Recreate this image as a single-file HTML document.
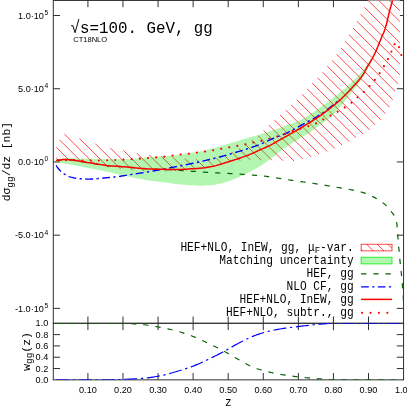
<!DOCTYPE html>
<html><head><meta charset="utf-8"><title>plot</title>
<style>html,body{margin:0;padding:0;background:#fff;overflow:hidden}svg{font-family:"Liberation Sans",sans-serif;opacity:0.999;will-change:transform}</style>
</head><body>
<svg width="407" height="407" viewBox="0 0 407 407" style="display:block">
<defs>
<clipPath id="cm"><rect x="53.3" y="0.45" width="350.25" height="322.85"/></clipPath>
<clipPath id="cl"><rect x="53.3" y="323.3" width="350.25" height="56.55000000000001"/></clipPath>
<clipPath id="ch"><path d="M56.20,144.50 L59.80,139.80 L64.70,133.70 L66.26,133.60 L67.75,133.68 L69.21,134.16 L70.63,134.87 L72.06,135.52 L73.50,136.10 L74.93,136.68 L76.36,137.27 L77.79,137.84 L79.23,138.39 L80.68,138.92 L82.13,139.44 L83.59,139.96 L85.05,140.47 L86.51,140.97 L87.97,141.46 L89.44,141.95 L90.90,142.43 L92.37,142.90 L93.85,143.37 L95.32,143.83 L96.79,144.28 L98.27,144.74 L99.75,145.19 L101.23,145.65 L102.71,146.09 L104.19,146.52 L105.68,146.94 L107.17,147.33 L108.67,147.70 L110.17,148.04 L111.68,148.35 L113.19,148.63 L114.71,148.90 L116.24,149.15 L117.76,149.40 L119.29,149.65 L120.81,149.91 L122.33,150.18 L123.85,150.46 L125.36,150.77 L126.88,151.08 L128.39,151.40 L129.90,151.72 L131.41,152.04 L132.92,152.36 L134.43,152.66 L135.95,152.95 L137.47,153.23 L138.99,153.49 L140.51,153.76 L142.03,154.01 L143.56,154.26 L145.08,154.49 L146.61,154.72 L148.14,154.93 L149.67,155.12 L151.20,155.30 L152.74,155.47 L154.27,155.63 L155.81,155.78 L157.35,155.93 L158.88,156.07 L160.42,156.21 L161.96,156.35 L163.50,156.49 L165.04,156.61 L166.58,156.73 L168.11,156.85 L169.65,156.97 L171.19,157.09 L172.73,157.22 L174.27,157.36 L175.80,157.53 L177.34,157.71 L178.87,157.89 L180.40,158.08 L181.94,158.26 L183.47,158.42 L185.01,158.57 L186.55,158.70 L188.08,158.83 L189.62,158.96 L191.17,159.08 L192.71,159.18 L194.25,159.26 L195.79,159.30 L197.33,159.30 L198.88,159.29 L200.43,159.28 L201.97,159.27 L203.52,159.25 L205.06,159.23 L206.60,159.21 L208.13,159.15 L209.67,159.02 L211.21,158.82 L212.74,158.57 L214.27,158.28 L215.79,157.96 L217.29,157.64 L218.78,157.30 L220.27,156.90 L221.74,156.44 L223.21,155.94 L224.67,155.40 L226.12,154.83 L227.55,154.24 L228.97,153.64 L230.37,153.03 L231.76,152.37 L233.13,151.67 L234.50,150.94 L235.85,150.18 L237.19,149.41 L238.53,148.61 L239.86,147.81 L241.18,147.00 L242.49,146.20 L243.79,145.37 L245.07,144.51 L246.35,143.64 L247.62,142.76 L248.89,141.88 L250.16,141.00 L251.44,140.14 L252.74,139.30 L254.04,138.46 L255.33,137.61 L256.58,136.72 L257.79,135.77 L258.98,134.79 L260.14,133.77 L261.28,132.72 L262.41,131.66 L263.52,130.58 L264.60,129.48 L265.64,128.34 L266.68,127.20 L267.74,126.07 L268.82,124.98 L269.96,123.93 L271.12,122.92 L272.30,121.92 L273.48,120.93 L274.66,119.92 L275.82,118.91 L276.98,117.89 L278.14,116.87 L279.30,115.85 L280.46,114.83 L281.61,113.80 L282.76,112.77 L283.90,111.73 L285.04,110.69 L286.17,109.64 L287.29,108.57 L288.40,107.50 L289.50,106.42 L290.60,105.34 L291.71,104.27 L292.84,103.21 L293.98,102.17 L295.12,101.12 L296.24,100.06 L297.34,98.98 L298.43,97.90 L299.52,96.81 L300.61,95.71 L301.69,94.61 L302.77,93.50 L303.84,92.39 L304.91,91.27 L305.97,90.15 L307.03,89.03 L308.09,87.90 L309.14,86.77 L310.19,85.64 L311.24,84.50 L312.28,83.36 L313.32,82.22 L314.36,81.08 L315.39,79.93 L316.43,78.78 L317.46,77.64 L318.49,76.49 L319.52,75.34 L320.55,74.19 L321.59,73.04 L322.61,71.88 L323.64,70.72 L324.66,69.56 L325.67,68.39 L326.67,67.22 L327.67,66.03 L328.65,64.85 L329.62,63.65 L330.58,62.44 L331.53,61.23 L332.45,60.00 L333.36,58.76 L334.26,57.50 L335.14,56.23 L336.01,54.96 L336.87,53.68 L337.73,52.39 L338.59,51.10 L339.45,49.82 L340.31,48.53 L341.17,47.25 L342.04,45.98 L342.91,44.70 L343.77,43.42 L344.61,42.12 L345.42,40.81 L346.21,39.48 L346.97,38.14 L347.73,36.80 L348.50,35.46 L349.28,34.13 L350.08,32.80 L350.88,31.49 L351.69,30.17 L352.49,28.85 L353.28,27.53 L354.08,26.20 L354.88,24.88 L355.67,23.55 L356.44,22.22 L357.18,20.86 L357.88,19.49 L358.56,18.10 L359.23,16.71 L359.91,15.32 L360.62,13.96 L361.37,12.61 L362.14,11.27 L362.93,9.94 L363.71,8.61 L364.48,7.27 L365.23,5.92 L365.97,4.56 L366.71,3.21 L367.44,1.85 L368.17,0.49 L368.88,-0.88 L369.60,-2.25 L370.30,-3.62 L371.00,-5.00 L399.90,-5.00 L399.90,78.00 L399.43,79.47 L398.96,80.93 L398.46,82.39 L397.95,83.84 L397.40,85.28 L396.83,86.71 L396.24,88.14 L395.67,89.57 L395.13,91.01 L394.66,92.47 L394.24,93.95 L393.86,95.45 L393.48,96.95 L393.08,98.43 L392.63,99.90 L392.12,101.34 L391.54,102.77 L390.92,104.19 L390.26,105.58 L389.57,106.96 L388.86,108.32 L388.11,109.66 L387.32,110.99 L386.49,112.30 L385.65,113.58 L384.78,114.85 L383.88,116.11 L382.95,117.35 L381.99,118.55 L380.98,119.70 L379.92,120.80 L378.78,121.83 L377.61,122.83 L376.42,123.83 L375.25,124.84 L374.12,125.89 L372.99,126.95 L371.86,128.00 L370.70,129.01 L369.50,129.95 L368.24,130.81 L366.93,131.64 L365.60,132.42 L364.26,133.19 L362.91,133.93 L361.54,134.63 L360.15,135.31 L358.76,135.98 L357.38,136.66 L356.02,137.38 L354.69,138.15 L353.39,138.96 L352.09,139.80 L350.80,140.63 L349.48,141.43 L348.13,142.17 L346.77,142.88 L345.39,143.57 L344.01,144.25 L342.61,144.91 L341.22,145.57 L339.83,146.21 L338.42,146.85 L337.02,147.48 L335.61,148.10 L334.19,148.70 L332.78,149.31 L331.36,149.91 L329.93,150.49 L328.50,151.05 L327.06,151.59 L325.60,152.08 L324.14,152.55 L322.66,153.01 L321.19,153.46 L319.72,153.93 L318.26,154.42 L316.81,154.93 L315.36,155.45 L313.90,155.96 L312.44,156.45 L310.97,156.89 L309.49,157.29 L308.00,157.65 L306.50,157.99 L304.99,158.32 L303.48,158.66 L301.98,159.00 L300.49,159.43 L299.00,159.92 L297.52,160.39 L296.03,160.78 L294.52,160.98 L293.00,161.00 L291.47,160.97 L289.93,160.94 L288.39,160.90 L286.84,160.85 L285.30,160.81 L283.76,160.76 L282.22,160.71 L280.68,160.66 L279.14,160.60 L277.60,160.53 L276.07,160.47 L274.53,160.42 L272.99,160.37 L271.45,160.33 L269.91,160.30 L268.37,160.27 L266.83,160.25 L265.29,160.23 L263.75,160.21 L262.21,160.19 L260.67,160.17 L259.13,160.15 L257.59,160.14 L256.05,160.12 L254.52,160.11 L252.98,160.11 L251.44,160.10 L249.90,160.10 L248.36,160.12 L246.82,160.17 L245.28,160.25 L243.74,160.34 L242.21,160.44 L240.67,160.55 L239.14,160.67 L237.61,160.81 L236.08,160.98 L234.55,161.17 L233.02,161.38 L231.49,161.61 L229.97,161.85 L228.46,162.09 L226.94,162.36 L225.43,162.67 L223.93,162.99 L222.42,163.33 L220.92,163.68 L219.42,164.02 L217.92,164.38 L216.43,164.76 L214.94,165.15 L213.44,165.53 L211.95,165.89 L210.45,166.21 L208.94,166.49 L207.42,166.73 L205.89,166.96 L204.37,167.18 L202.84,167.41 L201.33,167.67 L199.81,167.95 L198.30,168.23 L196.79,168.52 L195.27,168.81 L193.76,169.08 L192.24,169.37 L190.73,169.67 L189.21,169.95 L187.70,170.20 L186.17,170.38 L184.64,170.52 L183.11,170.64 L181.57,170.74 L180.03,170.83 L178.49,170.91 L176.96,170.98 L175.42,171.05 L173.88,171.11 L172.34,171.18 L170.80,171.24 L169.26,171.30 L167.72,171.36 L166.19,171.40 L164.65,171.44 L163.11,171.47 L161.57,171.49 L160.03,171.50 L158.49,171.50 L156.95,171.49 L155.41,171.48 L153.87,171.46 L152.33,171.44 L150.79,171.41 L149.25,171.38 L147.71,171.35 L146.17,171.32 L144.64,171.27 L143.10,171.20 L141.56,171.11 L140.03,170.99 L138.49,170.85 L136.96,170.71 L135.43,170.56 L133.89,170.40 L132.36,170.26 L130.83,170.10 L129.30,169.94 L127.77,169.76 L126.24,169.57 L124.71,169.38 L123.19,169.19 L121.66,169.00 L120.13,168.82 L118.60,168.63 L117.07,168.46 L115.54,168.29 L114.00,168.11 L112.47,167.93 L110.95,167.74 L109.43,167.52 L107.91,167.29 L106.40,167.00 L104.90,166.66 L103.40,166.29 L101.91,165.91 L100.41,165.54 L98.91,165.19 L97.40,164.88 L95.89,164.60 L94.38,164.34 L92.86,164.08 L91.34,163.84 L89.82,163.60 L88.30,163.36 L86.77,163.12 L85.25,162.88 L83.73,162.63 L82.22,162.37 L80.70,162.07 L79.19,161.74 L77.68,161.43 L76.16,161.17 L74.64,161.00 L73.11,160.90 L71.58,160.81 L70.04,160.73 L68.49,160.67 L66.95,160.63 L65.41,160.60 L63.87,160.61 L62.33,160.66 L60.80,160.75 L59.26,160.85 L57.73,161.01 L56.20,161.20Z"/></clipPath><clipPath id="ct"><rect x="0" y="0.3" width="407" height="330"/></clipPath>
<clipPath id="clh"><rect x="361.1" y="244.2" width="30.9" height="6.7"/></clipPath>
</defs>
<rect width="407" height="407" fill="#fff"/>
<g stroke="#303030" stroke-width="1" fill="none">
<rect x="53.3" y="0.45" width="350.25" height="322.85"/>
<rect x="53.3" y="323.3" width="350.25" height="56.55000000000001"/>
<path d="M87.91,0.45 v6.8 M87.91,316.5 v13.6 M87.91,379.85 v-6.8 M122.98,0.45 v6.8 M122.98,316.5 v13.6 M122.98,379.85 v-6.8 M158.06,0.45 v6.8 M158.06,316.5 v13.6 M158.06,379.85 v-6.8 M193.13,0.45 v6.8 M193.13,316.5 v13.6 M193.13,379.85 v-6.8 M228.20,0.45 v6.8 M228.20,316.5 v13.6 M228.20,379.85 v-6.8 M263.28,0.45 v6.8 M263.28,316.5 v13.6 M263.28,379.85 v-6.8 M298.36,0.45 v6.8 M298.36,316.5 v13.6 M298.36,379.85 v-6.8 M333.43,0.45 v6.8 M333.43,316.5 v13.6 M333.43,379.85 v-6.8 M368.50,0.45 v6.8 M368.50,316.5 v13.6 M368.50,379.85 v-6.8 M53.3,15.50 h6.8 M403.55,15.50 h-6.8 M53.3,88.72 h6.8 M403.55,88.72 h-6.8 M53.3,161.95 h6.8 M403.55,161.95 h-6.8 M53.3,235.17 h6.8 M403.55,235.17 h-6.8 M53.3,308.40 h6.8 M403.55,308.40 h-6.8 M53.3,368.54 h6.8 M403.55,368.54 h-6.8 M53.3,357.23 h6.8 M403.55,357.23 h-6.8 M53.3,345.92 h6.8 M403.55,345.92 h-6.8 M53.3,334.61 h6.8 M403.55,334.61 h-6.8"/>
</g>
<g clip-path="url(#cm)">
<path d="M56.20,144.50 L59.80,139.80 L64.70,133.70 L66.26,133.60 L67.75,133.68 L69.21,134.16 L70.63,134.87 L72.06,135.52 L73.50,136.10 L74.93,136.68 L76.36,137.27 L77.79,137.84 L79.23,138.39 L80.68,138.92 L82.13,139.44 L83.59,139.96 L85.05,140.47 L86.51,140.97 L87.97,141.46 L89.44,141.95 L90.90,142.43 L92.37,142.90 L93.85,143.37 L95.32,143.83 L96.79,144.28 L98.27,144.74 L99.75,145.19 L101.23,145.65 L102.71,146.09 L104.19,146.52 L105.68,146.94 L107.17,147.33 L108.67,147.70 L110.17,148.04 L111.68,148.35 L113.19,148.63 L114.71,148.90 L116.24,149.15 L117.76,149.40 L119.29,149.65 L120.81,149.91 L122.33,150.18 L123.85,150.46 L125.36,150.77 L126.88,151.08 L128.39,151.40 L129.90,151.72 L131.41,152.04 L132.92,152.36 L134.43,152.66 L135.95,152.95 L137.47,153.23 L138.99,153.49 L140.51,153.76 L142.03,154.01 L143.56,154.26 L145.08,154.49 L146.61,154.72 L148.14,154.93 L149.67,155.12 L151.20,155.30 L152.74,155.47 L154.27,155.63 L155.81,155.78 L157.35,155.93 L158.88,156.07 L160.42,156.21 L161.96,156.35 L163.50,156.49 L165.04,156.61 L166.58,156.73 L168.11,156.85 L169.65,156.97 L171.19,157.09 L172.73,157.22 L174.27,157.36 L175.80,157.53 L177.34,157.71 L178.87,157.89 L180.40,158.08 L181.94,158.26 L183.47,158.42 L185.01,158.57 L186.55,158.70 L188.08,158.83 L189.62,158.96 L191.17,159.08 L192.71,159.18 L194.25,159.26 L195.79,159.30 L197.33,159.30 L198.88,159.29 L200.43,159.28 L201.97,159.27 L203.52,159.25 L205.06,159.23 L206.60,159.21 L208.13,159.15 L209.67,159.02 L211.21,158.82 L212.74,158.57 L214.27,158.28 L215.79,157.96 L217.29,157.64 L218.78,157.30 L220.27,156.90 L221.74,156.44 L223.21,155.94 L224.67,155.40 L226.12,154.83 L227.55,154.24 L228.97,153.64 L230.37,153.03 L231.76,152.37 L233.13,151.67 L234.50,150.94 L235.85,150.18 L237.19,149.41 L238.53,148.61 L239.86,147.81 L241.18,147.00 L242.49,146.20 L243.79,145.37 L245.07,144.51 L246.35,143.64 L247.62,142.76 L248.89,141.88 L250.16,141.00 L251.44,140.14 L252.74,139.30 L254.04,138.46 L255.33,137.61 L256.58,136.72 L257.79,135.77 L258.98,134.79 L260.14,133.77 L261.28,132.72 L262.41,131.66 L263.52,130.58 L264.60,129.48 L265.64,128.34 L266.68,127.20 L267.74,126.07 L268.82,124.98 L269.96,123.93 L271.12,122.92 L272.30,121.92 L273.48,120.93 L274.66,119.92 L275.82,118.91 L276.98,117.89 L278.14,116.87 L279.30,115.85 L280.46,114.83 L281.61,113.80 L282.76,112.77 L283.90,111.73 L285.04,110.69 L286.17,109.64 L287.29,108.57 L288.40,107.50 L289.50,106.42 L290.60,105.34 L291.71,104.27 L292.84,103.21 L293.98,102.17 L295.12,101.12 L296.24,100.06 L297.34,98.98 L298.43,97.90 L299.52,96.81 L300.61,95.71 L301.69,94.61 L302.77,93.50 L303.84,92.39 L304.91,91.27 L305.97,90.15 L307.03,89.03 L308.09,87.90 L309.14,86.77 L310.19,85.64 L311.24,84.50 L312.28,83.36 L313.32,82.22 L314.36,81.08 L315.39,79.93 L316.43,78.78 L317.46,77.64 L318.49,76.49 L319.52,75.34 L320.55,74.19 L321.59,73.04 L322.61,71.88 L323.64,70.72 L324.66,69.56 L325.67,68.39 L326.67,67.22 L327.67,66.03 L328.65,64.85 L329.62,63.65 L330.58,62.44 L331.53,61.23 L332.45,60.00 L333.36,58.76 L334.26,57.50 L335.14,56.23 L336.01,54.96 L336.87,53.68 L337.73,52.39 L338.59,51.10 L339.45,49.82 L340.31,48.53 L341.17,47.25 L342.04,45.98 L342.91,44.70 L343.77,43.42 L344.61,42.12 L345.42,40.81 L346.21,39.48 L346.97,38.14 L347.73,36.80 L348.50,35.46 L349.28,34.13 L350.08,32.80 L350.88,31.49 L351.69,30.17 L352.49,28.85 L353.28,27.53 L354.08,26.20 L354.88,24.88 L355.67,23.55 L356.44,22.22 L357.18,20.86 L357.88,19.49 L358.56,18.10 L359.23,16.71 L359.91,15.32 L360.62,13.96 L361.37,12.61 L362.14,11.27 L362.93,9.94 L363.71,8.61 L364.48,7.27 L365.23,5.92 L365.97,4.56 L366.71,3.21 L367.44,1.85 L368.17,0.49 L368.88,-0.88 L369.60,-2.25 L370.30,-3.62 L371.00,-5.00 L399.90,-5.00 L399.90,78.00 L399.43,79.47 L398.96,80.93 L398.46,82.39 L397.95,83.84 L397.40,85.28 L396.83,86.71 L396.24,88.14 L395.67,89.57 L395.13,91.01 L394.66,92.47 L394.24,93.95 L393.86,95.45 L393.48,96.95 L393.08,98.43 L392.63,99.90 L392.12,101.34 L391.54,102.77 L390.92,104.19 L390.26,105.58 L389.57,106.96 L388.86,108.32 L388.11,109.66 L387.32,110.99 L386.49,112.30 L385.65,113.58 L384.78,114.85 L383.88,116.11 L382.95,117.35 L381.99,118.55 L380.98,119.70 L379.92,120.80 L378.78,121.83 L377.61,122.83 L376.42,123.83 L375.25,124.84 L374.12,125.89 L372.99,126.95 L371.86,128.00 L370.70,129.01 L369.50,129.95 L368.24,130.81 L366.93,131.64 L365.60,132.42 L364.26,133.19 L362.91,133.93 L361.54,134.63 L360.15,135.31 L358.76,135.98 L357.38,136.66 L356.02,137.38 L354.69,138.15 L353.39,138.96 L352.09,139.80 L350.80,140.63 L349.48,141.43 L348.13,142.17 L346.77,142.88 L345.39,143.57 L344.01,144.25 L342.61,144.91 L341.22,145.57 L339.83,146.21 L338.42,146.85 L337.02,147.48 L335.61,148.10 L334.19,148.70 L332.78,149.31 L331.36,149.91 L329.93,150.49 L328.50,151.05 L327.06,151.59 L325.60,152.08 L324.14,152.55 L322.66,153.01 L321.19,153.46 L319.72,153.93 L318.26,154.42 L316.81,154.93 L315.36,155.45 L313.90,155.96 L312.44,156.45 L310.97,156.89 L309.49,157.29 L308.00,157.65 L306.50,157.99 L304.99,158.32 L303.48,158.66 L301.98,159.00 L300.49,159.43 L299.00,159.92 L297.52,160.39 L296.03,160.78 L294.52,160.98 L293.00,161.00 L291.47,160.97 L289.93,160.94 L288.39,160.90 L286.84,160.85 L285.30,160.81 L283.76,160.76 L282.22,160.71 L280.68,160.66 L279.14,160.60 L277.60,160.53 L276.07,160.47 L274.53,160.42 L272.99,160.37 L271.45,160.33 L269.91,160.30 L268.37,160.27 L266.83,160.25 L265.29,160.23 L263.75,160.21 L262.21,160.19 L260.67,160.17 L259.13,160.15 L257.59,160.14 L256.05,160.12 L254.52,160.11 L252.98,160.11 L251.44,160.10 L249.90,160.10 L248.36,160.12 L246.82,160.17 L245.28,160.25 L243.74,160.34 L242.21,160.44 L240.67,160.55 L239.14,160.67 L237.61,160.81 L236.08,160.98 L234.55,161.17 L233.02,161.38 L231.49,161.61 L229.97,161.85 L228.46,162.09 L226.94,162.36 L225.43,162.67 L223.93,162.99 L222.42,163.33 L220.92,163.68 L219.42,164.02 L217.92,164.38 L216.43,164.76 L214.94,165.15 L213.44,165.53 L211.95,165.89 L210.45,166.21 L208.94,166.49 L207.42,166.73 L205.89,166.96 L204.37,167.18 L202.84,167.41 L201.33,167.67 L199.81,167.95 L198.30,168.23 L196.79,168.52 L195.27,168.81 L193.76,169.08 L192.24,169.37 L190.73,169.67 L189.21,169.95 L187.70,170.20 L186.17,170.38 L184.64,170.52 L183.11,170.64 L181.57,170.74 L180.03,170.83 L178.49,170.91 L176.96,170.98 L175.42,171.05 L173.88,171.11 L172.34,171.18 L170.80,171.24 L169.26,171.30 L167.72,171.36 L166.19,171.40 L164.65,171.44 L163.11,171.47 L161.57,171.49 L160.03,171.50 L158.49,171.50 L156.95,171.49 L155.41,171.48 L153.87,171.46 L152.33,171.44 L150.79,171.41 L149.25,171.38 L147.71,171.35 L146.17,171.32 L144.64,171.27 L143.10,171.20 L141.56,171.11 L140.03,170.99 L138.49,170.85 L136.96,170.71 L135.43,170.56 L133.89,170.40 L132.36,170.26 L130.83,170.10 L129.30,169.94 L127.77,169.76 L126.24,169.57 L124.71,169.38 L123.19,169.19 L121.66,169.00 L120.13,168.82 L118.60,168.63 L117.07,168.46 L115.54,168.29 L114.00,168.11 L112.47,167.93 L110.95,167.74 L109.43,167.52 L107.91,167.29 L106.40,167.00 L104.90,166.66 L103.40,166.29 L101.91,165.91 L100.41,165.54 L98.91,165.19 L97.40,164.88 L95.89,164.60 L94.38,164.34 L92.86,164.08 L91.34,163.84 L89.82,163.60 L88.30,163.36 L86.77,163.12 L85.25,162.88 L83.73,162.63 L82.22,162.37 L80.70,162.07 L79.19,161.74 L77.68,161.43 L76.16,161.17 L74.64,161.00 L73.11,160.90 L71.58,160.81 L70.04,160.73 L68.49,160.67 L66.95,160.63 L65.41,160.60 L63.87,160.61 L62.33,160.66 L60.80,160.75 L59.26,160.85 L57.73,161.01 L56.20,161.20Z" fill="#fff" stroke="none" clip-path="url(#ct)"/>
<g clip-path="url(#ch)"><path d="M-218.34,-10 L211.66,420 M-207.67,-10 L222.33,420 M-197.01,-10 L232.99,420 M-186.34,-10 L243.66,420 M-175.67,-10 L254.33,420 M-165.00,-10 L265.00,420 M-154.34,-10 L275.66,420 M-143.67,-10 L286.33,420 M-133.00,-10 L297.00,420 M-122.34,-10 L307.66,420 M-111.67,-10 L318.33,420 M-101.00,-10 L329.00,420 M-90.34,-10 L339.66,420 M-79.67,-10 L350.33,420 M-69.00,-10 L361.00,420 M-58.33,-10 L371.67,420 M-47.67,-10 L382.33,420 M-37.00,-10 L393.00,420 M-26.33,-10 L403.67,420 M-15.67,-10 L414.33,420 M-5.00,-10 L425.00,420 M5.67,-10 L435.67,420 M16.33,-10 L446.33,420 M27.00,-10 L457.00,420 M37.67,-10 L467.67,420 M48.34,-10 L478.34,420 M59.00,-10 L489.00,420 M69.67,-10 L499.67,420 M80.34,-10 L510.34,420 M91.00,-10 L521.00,420 M101.67,-10 L531.67,420 M112.34,-10 L542.34,420 M123.00,-10 L553.00,420 M133.67,-10 L563.67,420 M144.34,-10 L574.34,420 M155.01,-10 L585.00,420 M165.67,-10 L595.67,420 M176.34,-10 L606.34,420 M187.01,-10 L617.01,420 M197.67,-10 L627.67,420 M208.34,-10 L638.34,420 M219.01,-10 L649.01,420 M229.67,-10 L659.67,420 M240.34,-10 L670.34,420 M251.01,-10 L681.01,420 M261.68,-10 L691.67,420 M272.34,-10 L702.34,420 M283.01,-10 L713.01,420 M293.68,-10 L723.68,420 M304.34,-10 L734.34,420 M315.01,-10 L745.01,420 M325.68,-10 L755.68,420 M336.34,-10 L766.34,420 M347.01,-10 L777.01,420 M357.68,-10 L787.68,420 M368.34,-10 L798.34,420 M379.01,-10 L809.01,420 M389.68,-10 L819.68,420 M400.35,-10 L830.35,420" stroke="#ff0000" stroke-width="0.72" fill="none"/></g>
<path d="M56.20,160.30 L57.88,159.63 L59.59,159.05 L61.31,158.67 L63.05,158.53 L64.82,158.43 L66.60,158.36 L68.39,158.31 L70.17,158.30 L71.95,158.32 L73.72,158.37 L75.50,158.43 L77.28,158.51 L79.06,158.57 L80.83,158.62 L82.61,158.68 L84.39,158.73 L86.16,158.78 L87.94,158.84 L89.72,158.89 L91.49,158.94 L93.27,158.98 L95.05,159.03 L96.82,159.06 L98.60,159.09 L100.38,159.10 L102.16,159.12 L103.93,159.13 L105.71,159.14 L107.49,159.16 L109.27,159.17 L111.04,159.18 L112.82,159.18 L114.60,159.19 L116.38,159.20 L118.16,159.20 L119.93,159.20 L121.71,159.19 L123.49,159.17 L125.27,159.13 L127.04,159.09 L128.82,159.04 L130.60,158.98 L132.37,158.89 L134.14,158.77 L135.91,158.63 L137.68,158.46 L139.45,158.27 L141.22,158.08 L142.99,157.88 L144.76,157.69 L146.53,157.51 L148.30,157.34 L150.07,157.19 L151.84,157.07 L153.62,156.95 L155.39,156.83 L157.16,156.72 L158.94,156.61 L160.71,156.50 L162.49,156.38 L164.26,156.26 L166.03,156.12 L167.80,155.98 L169.58,155.84 L171.35,155.69 L173.12,155.53 L174.89,155.37 L176.66,155.19 L178.43,154.99 L180.19,154.78 L181.94,154.51 L183.69,154.20 L185.44,153.85 L187.18,153.51 L188.93,153.18 L190.69,152.90 L192.45,152.65 L194.22,152.43 L195.98,152.20 L197.74,151.96 L199.50,151.69 L201.23,151.36 L202.96,150.97 L204.69,150.53 L206.40,150.07 L208.12,149.58 L209.83,149.09 L211.55,148.60 L213.26,148.14 L214.98,147.68 L216.70,147.22 L218.41,146.75 L220.12,146.27 L221.84,145.79 L223.54,145.31 L225.25,144.81 L226.95,144.30 L228.65,143.77 L230.35,143.24 L232.04,142.71 L233.74,142.17 L235.44,141.65 L237.14,141.13 L238.84,140.62 L240.54,140.11 L242.25,139.61 L243.95,139.11 L245.66,138.61 L247.37,138.11 L249.07,137.61 L250.78,137.11 L252.49,136.62 L254.20,136.13 L255.90,135.63 L257.61,135.14 L259.31,134.63 L261.02,134.12 L262.71,133.59 L264.41,133.06 L266.10,132.52 L267.79,131.97 L269.48,131.42 L271.17,130.85 L272.86,130.29 L274.54,129.71 L276.22,129.13 L277.89,128.54 L279.57,127.94 L281.24,127.34 L282.91,126.73 L284.58,126.12 L286.25,125.51 L287.93,124.91 L289.61,124.32 L291.30,123.73 L292.99,123.13 L294.66,122.52 L296.32,121.88 L297.96,121.21 L299.57,120.50 L301.15,119.74 L302.70,118.93 L304.24,118.07 L305.77,117.17 L307.28,116.23 L308.78,115.26 L310.26,114.27 L311.74,113.26 L313.22,112.24 L314.68,111.21 L316.15,110.18 L317.61,109.15 L319.08,108.13 L320.54,107.13 L322.00,106.12 L323.46,105.10 L324.91,104.07 L326.35,103.03 L327.79,101.97 L329.21,100.92 L330.63,99.85 L332.05,98.77 L333.46,97.69 L334.86,96.60 L336.25,95.49 L337.64,94.38 L339.02,93.26 L340.40,92.13 L341.76,91.00 L343.13,89.86 L344.49,88.71 L345.84,87.56 L347.19,86.39 L348.53,85.21 L349.84,84.02 L351.14,82.82 L352.42,81.59 L353.70,80.35 L354.96,79.09 L356.21,77.83 L357.45,76.54 L358.68,75.24 L359.88,73.93 L361.05,72.59 L362.19,71.24 L363.31,69.87 L364.40,68.47 L365.48,67.05 L366.52,65.60 L367.54,64.13 L368.50,62.64 L369.42,61.13 L370.31,59.60 L371.17,58.05 L372.00,56.48 L372.80,54.89 L373.57,53.28 L374.30,51.65 L375.00,50.00 L375.00,50.00 L374.53,51.85 L374.02,53.69 L373.46,55.51 L372.86,57.32 L372.23,59.09 L371.56,60.85 L370.85,62.58 L370.07,64.30 L369.24,66.00 L368.36,67.68 L367.43,69.35 L366.48,71.00 L365.50,72.64 L364.50,74.27 L363.50,75.88 L362.50,77.48 L361.47,79.07 L360.41,80.63 L359.33,82.19 L358.22,83.73 L357.10,85.26 L355.96,86.78 L354.81,88.30 L353.66,89.81 L352.51,91.32 L351.37,92.83 L350.22,94.34 L349.06,95.84 L347.89,97.34 L346.72,98.83 L345.53,100.31 L344.34,101.78 L343.13,103.24 L341.92,104.69 L340.69,106.14 L339.46,107.59 L338.22,109.04 L336.98,110.48 L335.72,111.91 L334.43,113.31 L333.12,114.68 L331.78,116.00 L330.40,117.27 L328.96,118.48 L327.47,119.64 L325.94,120.77 L324.39,121.87 L322.83,122.97 L321.28,124.07 L319.74,125.19 L318.23,126.32 L316.71,127.47 L315.19,128.61 L313.67,129.75 L312.14,130.86 L310.59,131.95 L309.01,132.99 L307.40,133.98 L305.76,134.93 L304.11,135.86 L302.45,136.78 L300.80,137.72 L299.18,138.70 L297.56,139.69 L295.95,140.69 L294.34,141.69 L292.74,142.71 L291.14,143.74 L289.56,144.78 L287.98,145.84 L286.42,146.91 L284.87,148.00 L283.35,149.12 L281.83,150.26 L280.33,151.41 L278.83,152.57 L277.33,153.74 L275.83,154.90 L274.32,156.04 L272.80,157.17 L271.28,158.31 L269.76,159.46 L268.24,160.60 L266.72,161.73 L265.18,162.84 L263.63,163.93 L262.06,164.98 L260.46,165.99 L258.85,166.97 L257.21,167.93 L255.56,168.86 L253.89,169.78 L252.22,170.68 L250.54,171.56 L248.85,172.42 L247.16,173.28 L245.46,174.12 L243.75,174.95 L242.04,175.75 L240.31,176.54 L238.57,177.30 L236.83,178.03 L235.07,178.75 L233.31,179.47 L231.54,180.18 L229.76,180.85 L227.97,181.48 L226.17,182.06 L224.36,182.56 L222.53,183.04 L220.68,183.49 L218.83,183.92 L216.96,184.30 L215.09,184.64 L213.22,184.90 L211.34,185.09 L209.46,185.27 L207.57,185.44 L205.67,185.59 L203.77,185.70 L201.88,185.77 L199.98,185.80 L198.09,185.73 L196.20,185.57 L194.31,185.41 L192.42,185.28 L190.53,185.16 L188.63,185.05 L186.74,184.93 L184.85,184.81 L182.96,184.68 L181.07,184.53 L179.18,184.37 L177.30,184.17 L175.42,183.94 L173.54,183.68 L171.66,183.41 L169.79,183.12 L167.91,182.85 L166.03,182.58 L164.15,182.33 L162.27,182.10 L160.39,181.87 L158.51,181.66 L156.62,181.44 L154.74,181.21 L152.86,180.98 L150.98,180.73 L149.10,180.47 L147.23,180.20 L145.35,179.91 L143.48,179.61 L141.61,179.29 L139.75,178.95 L137.89,178.58 L136.04,178.17 L134.19,177.74 L132.34,177.32 L130.49,176.90 L128.64,176.52 L126.78,176.16 L124.91,175.80 L123.05,175.44 L121.20,175.06 L119.35,174.65 L117.50,174.20 L115.67,173.73 L113.83,173.25 L112.00,172.78 L110.15,172.33 L108.30,171.92 L106.45,171.53 L104.60,171.14 L102.74,170.77 L100.88,170.40 L99.02,170.03 L97.16,169.68 L95.29,169.32 L93.43,168.96 L91.57,168.60 L89.71,168.24 L87.85,167.88 L85.98,167.53 L84.12,167.17 L82.26,166.82 L80.40,166.47 L78.53,166.12 L76.67,165.77 L74.81,165.42 L72.95,165.06 L71.08,164.71 L69.22,164.35 L67.36,163.99 L65.50,163.63 L63.64,163.26 L61.78,162.90 L59.92,162.53 L58.06,162.17 L56.20,161.80Z" fill="#00e000" fill-opacity="0.3" stroke="none"/>
<path d="M56.20,160.60 L57.35,160.40 L58.49,160.21 L59.64,160.05 L60.80,159.89 L61.95,159.73 L63.11,159.59 L64.27,159.51 L65.42,159.51 L66.58,159.55 L67.75,159.62 L68.91,159.71 L70.07,159.81 L71.23,159.93 L72.38,160.04 L73.53,160.18 L74.68,160.36 L75.83,160.55 L76.97,160.76 L78.12,160.97 L79.26,161.18 L80.41,161.37 L81.56,161.55 L82.71,161.74 L83.85,161.92 L85.00,162.11 L86.15,162.29 L87.30,162.48 L88.44,162.66 L89.59,162.85 L90.74,163.03 L91.89,163.22 L93.04,163.40 L94.18,163.59 L95.33,163.77 L96.48,163.95 L97.63,164.13 L98.78,164.31 L99.92,164.49 L101.07,164.67 L102.22,164.85 L103.37,165.04 L104.52,165.22 L105.67,165.40 L106.82,165.56 L107.97,165.70 L109.13,165.81 L110.29,165.91 L111.44,165.99 L112.60,166.07 L113.76,166.13 L114.93,166.20 L116.09,166.26 L117.25,166.33 L118.41,166.40 L119.57,166.47 L120.73,166.55 L121.89,166.64 L123.05,166.72 L124.21,166.81 L125.37,166.90 L126.53,167.00 L127.68,167.10 L128.84,167.20 L130.00,167.30 L131.16,167.41 L132.31,167.54 L133.47,167.67 L134.62,167.80 L135.78,167.94 L136.94,168.06 L138.09,168.18 L139.25,168.27 L140.41,168.36 L141.57,168.43 L142.73,168.51 L143.89,168.58 L145.05,168.64 L146.21,168.71 L147.37,168.77 L148.53,168.83 L149.69,168.88 L150.85,168.94 L152.01,168.99 L153.18,169.04 L154.34,169.09 L155.50,169.14 L156.66,169.19 L157.82,169.24 L158.99,169.29 L160.15,169.33 L161.31,169.38 L162.47,169.42 L163.63,169.46 L164.79,169.50 L165.96,169.54 L167.12,169.58 L168.28,169.62 L169.44,169.67 L170.60,169.73 L171.76,169.80 L172.92,169.87 L174.08,169.95 L175.24,170.03 L176.40,170.11 L177.56,170.20 L178.72,170.28 L179.88,170.36 L181.04,170.45 L182.20,170.54 L183.36,170.63 L184.52,170.73 L185.67,170.84 L186.83,170.94 L187.99,171.05 L189.15,171.14 L190.31,171.22 L191.47,171.29 L192.63,171.35 L193.79,171.40 L194.95,171.46 L196.11,171.53 L197.27,171.61 L198.43,171.69 L199.59,171.77 L200.75,171.86 L201.91,171.95 L203.07,172.04 L204.23,172.13 L205.39,172.21 L206.55,172.30 L207.70,172.38 L208.86,172.45 L210.02,172.53 L211.19,172.59 L212.35,172.66 L213.51,172.72 L214.67,172.78 L215.83,172.83 L216.99,172.89 L218.15,172.95 L219.31,173.00 L220.47,173.05 L221.63,173.11 L222.80,173.16 L223.96,173.22 L225.12,173.28 L226.28,173.34 L227.44,173.40 L228.60,173.46 L229.76,173.53 L230.92,173.59 L232.08,173.66 L233.24,173.73 L234.40,173.80 L235.56,173.88 L236.72,173.95 L237.88,174.03 L239.04,174.10 L240.20,174.18 L241.36,174.26 L242.52,174.34 L243.68,174.42 L244.84,174.50 L246.00,174.58 L247.16,174.67 L248.32,174.75 L249.48,174.84 L250.64,174.92 L251.80,175.01 L252.96,175.10 L254.12,175.19 L255.28,175.29 L256.43,175.38 L257.59,175.48 L258.75,175.58 L259.91,175.69 L261.06,175.80 L262.22,175.91 L263.38,176.03 L264.54,176.15 L265.69,176.27 L266.85,176.40 L268.00,176.54 L269.15,176.69 L270.31,176.84 L271.45,177.02 L272.60,177.21 L273.74,177.41 L274.89,177.62 L276.03,177.84 L277.17,178.06 L278.32,178.26 L279.46,178.46 L280.61,178.65 L281.76,178.83 L282.91,179.01 L284.06,179.18 L285.21,179.36 L286.36,179.53 L287.51,179.70 L288.66,179.86 L289.81,180.03 L290.96,180.20 L292.11,180.36 L293.26,180.53 L294.41,180.69 L295.56,180.86 L296.71,181.02 L297.86,181.19 L299.01,181.36 L300.16,181.53 L301.31,181.70 L302.46,181.86 L303.61,182.03 L304.76,182.19 L305.92,182.36 L307.07,182.53 L308.22,182.69 L309.37,182.86 L310.52,183.02 L311.67,183.19 L312.82,183.36 L313.97,183.53 L315.12,183.70 L316.27,183.88 L317.42,184.05 L318.56,184.23 L319.71,184.41 L320.86,184.60 L322.01,184.78 L323.16,184.97 L324.30,185.16 L325.45,185.35 L326.60,185.54 L327.74,185.73 L328.89,185.93 L330.03,186.12 L331.18,186.32 L332.33,186.52 L333.47,186.71 L334.62,186.91 L335.76,187.11 L336.91,187.31 L338.05,187.51 L339.20,187.70 L340.34,187.90 L341.49,188.09 L342.64,188.29 L343.78,188.48 L344.93,188.68 L346.07,188.88 L347.22,189.09 L348.36,189.29 L349.50,189.51 L350.65,189.72 L351.79,189.94 L352.93,190.16 L354.08,190.38 L355.22,190.61 L356.36,190.84 L357.49,191.08 L358.63,191.34 L359.75,191.61 L360.88,191.90 L362.00,192.22 L363.11,192.56 L364.22,192.93 L365.30,193.32 L366.38,193.76 L367.44,194.23 L368.49,194.72 L369.55,195.23 L370.60,195.73 L371.65,196.22 L372.71,196.70 L373.78,197.17 L374.84,197.66 L375.87,198.18 L376.88,198.75 L377.87,199.35 L378.85,199.99 L379.82,200.64 L380.77,201.31 L381.72,201.98 L382.66,202.67 L383.60,203.36 L384.52,204.08 L385.40,204.84 L386.23,205.63 L387.02,206.47 L387.77,207.36 L388.50,208.27 L389.22,209.19 L389.94,210.11 L390.68,211.01 L391.46,211.89 L392.25,212.77 L392.99,213.67 L393.61,214.62 L394.15,215.62 L394.65,216.67 L395.12,217.76 L395.54,218.86 L395.90,219.98 L396.20,221.10 L396.45,222.22 L396.68,223.37 L396.87,224.52 L397.03,225.68 L397.15,226.83 L397.24,227.99 L397.32,229.15 L397.39,230.31 L397.46,231.47 L397.53,232.63 L397.61,233.79 L397.70,234.95 L397.79,236.11 L397.88,237.27 L397.96,238.43 L398.03,239.59 L398.10,240.75 L398.17,241.91 L398.24,243.07 L398.32,244.23 L398.42,245.39 L398.55,246.54 L398.72,247.69 L398.90,248.84 L399.05,249.99 L399.18,251.15 L399.28,252.31 L399.38,253.46 L399.47,254.62 L399.56,255.78 L399.65,256.94 L399.74,258.10 L399.83,259.26 L399.94,260.42 L400.05,261.57 L400.18,262.73 L400.30,263.89 L400.43,265.04 L400.56,266.20 L400.70,267.35 L400.83,268.51 L400.96,269.66 L401.08,270.82 L401.20,271.97 L401.31,273.13 L401.42,274.29 L401.53,275.45 L401.64,276.60 L401.74,277.76 L401.85,278.92 L401.95,280.08 L402.05,281.23 L402.16,282.39 L402.26,283.55 L402.36,284.71 L402.47,285.87 L402.58,287.02 L402.69,288.18 L402.80,289.34 L402.89,290.50 L402.98,291.66 L403.05,292.82 L403.12,293.98 L403.19,295.14 L403.25,296.30 L403.31,297.46 L403.37,298.62 L403.42,299.78 L403.47,300.94 L403.51,302.11 L403.55,303.27 L403.59,304.43 L403.61,305.59 L403.64,306.75 L403.67,307.91 L403.70,309.08 L403.73,310.24 L403.75,311.40 L403.78,312.56 L403.80,313.72 L403.83,314.89 L403.85,316.05 L403.87,317.21 L403.89,318.37 L403.91,319.54 L403.93,320.70 L403.95,321.86 L403.96,323.02 L403.97,324.19 L403.98,325.35 L403.99,326.51 L404.00,327.67 L404.00,328.84 L404.00,330.00" fill="none" stroke="#006400" stroke-width="1.2" stroke-dasharray="5.2 7.05" stroke-dashoffset="11.74"/>
<path d="M56.20,165.40 L56.72,166.28 L57.28,167.14 L57.87,167.98 L58.48,168.78 L59.13,169.56 L59.82,170.31 L60.54,171.05 L61.29,171.75 L62.05,172.41 L62.85,173.04 L63.68,173.65 L64.53,174.21 L65.40,174.74 L66.28,175.26 L67.19,175.77 L68.11,176.23 L69.04,176.61 L69.99,176.91 L70.96,177.19 L71.94,177.44 L72.93,177.68 L73.93,177.90 L74.95,178.11 L75.96,178.28 L76.98,178.44 L78.00,178.57 L79.01,178.66 L80.02,178.74 L81.04,178.80 L82.05,178.86 L83.07,178.92 L84.09,178.97 L85.11,179.01 L86.13,179.05 L87.15,179.08 L88.17,179.09 L89.19,179.10 L90.21,179.09 L91.23,179.07 L92.24,179.03 L93.26,178.98 L94.28,178.91 L95.30,178.84 L96.31,178.75 L97.33,178.66 L98.34,178.56 L99.36,178.46 L100.38,178.36 L101.39,178.25 L102.41,178.15 L103.42,178.05 L104.44,177.95 L105.45,177.86 L106.47,177.77 L107.48,177.67 L108.50,177.58 L109.51,177.48 L110.53,177.38 L111.54,177.28 L112.56,177.17 L113.57,177.07 L114.58,176.95 L115.60,176.84 L116.61,176.72 L117.62,176.60 L118.63,176.48 L119.64,176.35 L120.65,176.21 L121.66,176.06 L122.66,175.90 L123.67,175.74 L124.67,175.57 L125.68,175.39 L126.68,175.22 L127.69,175.05 L128.70,174.88 L129.70,174.73 L130.71,174.57 L131.72,174.42 L132.72,174.26 L133.73,174.11 L134.74,173.95 L135.75,173.80 L136.75,173.65 L137.76,173.49 L138.77,173.33 L139.77,173.17 L140.78,173.01 L141.79,172.85 L142.79,172.69 L143.80,172.52 L144.81,172.36 L145.81,172.20 L146.82,172.03 L147.82,171.87 L148.83,171.70 L149.83,171.53 L150.84,171.36 L151.84,171.20 L152.85,171.03 L153.85,170.85 L154.86,170.68 L155.86,170.51 L156.87,170.33 L157.87,170.15 L158.87,169.98 L159.88,169.80 L160.88,169.61 L161.88,169.43 L162.88,169.24 L163.88,169.06 L164.89,168.87 L165.89,168.67 L166.89,168.48 L167.89,168.29 L168.89,168.09 L169.89,167.90 L170.89,167.70 L171.89,167.51 L172.89,167.31 L173.89,167.11 L174.89,166.91 L175.89,166.71 L176.89,166.52 L177.89,166.32 L178.89,166.12 L179.89,165.93 L180.89,165.73 L181.89,165.53 L182.89,165.33 L183.89,165.13 L184.89,164.93 L185.89,164.73 L186.89,164.53 L187.88,164.33 L188.88,164.13 L189.88,163.92 L190.88,163.72 L191.88,163.52 L192.88,163.31 L193.88,163.11 L194.87,162.90 L195.87,162.69 L196.87,162.48 L197.87,162.27 L198.86,162.05 L199.86,161.83 L200.85,161.61 L201.84,161.38 L202.84,161.15 L203.83,160.91 L204.82,160.67 L205.81,160.43 L206.80,160.19 L207.79,159.94 L208.78,159.70 L209.77,159.46 L210.76,159.22 L211.75,158.98 L212.74,158.73 L213.73,158.49 L214.72,158.25 L215.71,158.00 L216.70,157.75 L217.68,157.50 L218.67,157.25 L219.66,156.99 L220.64,156.73 L221.62,156.47 L222.61,156.20 L223.59,155.93 L224.57,155.65 L225.55,155.38 L226.53,155.10 L227.51,154.82 L228.49,154.53 L229.47,154.25 L230.45,153.97 L231.43,153.68 L232.41,153.40 L233.39,153.11 L234.36,152.82 L235.34,152.53 L236.32,152.24 L237.30,151.95 L238.27,151.66 L239.25,151.37 L240.23,151.07 L241.20,150.77 L242.18,150.48 L243.15,150.17 L244.12,149.87 L245.09,149.56 L246.06,149.25 L247.03,148.94 L248.00,148.63 L248.97,148.31 L249.94,147.99 L250.91,147.67 L251.87,147.34 L252.84,147.02 L253.80,146.69 L254.77,146.35 L255.73,146.01 L256.69,145.66 L257.64,145.31 L258.60,144.95 L259.54,144.58 L260.49,144.20 L261.43,143.81 L262.36,143.40 L263.28,142.98 L264.21,142.55 L265.13,142.11 L266.05,141.67 L266.97,141.23 L267.89,140.79 L268.81,140.35 L269.74,139.92 L270.67,139.50 L271.60,139.09 L272.54,138.69 L273.48,138.30 L274.42,137.92 L275.37,137.54 L276.33,137.18 L277.28,136.81 L278.24,136.45 L279.19,136.09 L280.14,135.72 L281.10,135.36 L282.05,134.99 L283.00,134.62 L283.94,134.24 L284.88,133.85 L285.82,133.45 L286.75,133.04 L287.67,132.62 L288.59,132.19 L289.50,131.74 L290.41,131.28 L291.31,130.82 L292.21,130.34 L293.11,129.86 L294.00,129.37 L294.90,128.87 L295.79,128.37 L296.68,127.87 L297.57,127.37 L298.45,126.86 L299.34,126.36 L300.23,125.85 L301.12,125.35 L302.01,124.86 L302.90,124.36 L303.80,123.87 L304.70,123.39 L305.59,122.91 L306.49,122.42 L307.39,121.94 L308.29,121.46 L309.19,120.98 L310.09,120.50 L310.99,120.01 L311.88,119.52 L312.77,119.03 L313.66,118.54 L314.55,118.03 L315.43,117.53 L316.31,117.01 L317.18,116.49 L318.05,115.96 L318.92,115.43 L319.79,114.89 L320.65,114.34 L321.51,113.79 L322.36,113.22 L323.21,112.65 L324.04,112.08 L324.87,111.49 L325.70,110.89 L326.51,110.28 L327.31,109.66 L328.11,109.02 L328.90,108.38 L329.69,107.74 L330.48,107.09 L331.27,106.44 L332.05,105.79 L332.84,105.14 L333.63,104.49 L334.43,103.86 L335.23,103.22 L336.02,102.58 L336.82,101.95 L337.61,101.31 L338.41,100.67 L339.20,100.04 L340.00,99.40" fill="none" stroke="#0000ff" stroke-width="1.4" stroke-dasharray="7.8 3.45 2.25 3.45" stroke-dashoffset="0.05"/>
<path d="M56.20,160.60 L57.59,160.36 L58.98,160.14 L60.38,159.95 L61.77,159.75 L63.18,159.58 L64.58,159.50 L65.98,159.52 L67.39,159.59 L68.80,159.70 L70.21,159.83 L71.61,159.96 L73.00,160.11 L74.40,160.31 L75.79,160.55 L77.18,160.80 L78.56,161.05 L79.95,161.29 L81.34,161.52 L82.73,161.74 L84.13,161.97 L85.52,162.19 L86.91,162.42 L88.30,162.64 L89.69,162.86 L91.08,163.09 L92.47,163.31 L93.86,163.54 L95.25,163.76 L96.64,163.98 L98.03,164.20 L99.43,164.41 L100.82,164.63 L102.21,164.85 L103.60,165.08 L105.00,165.30 L106.39,165.50 L107.79,165.68 L109.19,165.82 L110.59,165.93 L111.99,166.03 L113.40,166.11 L114.81,166.19 L116.21,166.27 L117.62,166.35 L119.03,166.43 L120.43,166.53 L121.84,166.63 L123.24,166.74 L124.65,166.85 L126.05,166.96 L127.46,167.08 L128.86,167.20 L130.26,167.32 L131.66,167.47 L133.07,167.62 L134.47,167.78 L135.87,167.95 L137.27,168.10 L138.67,168.23 L140.07,168.33 L141.48,168.43 L142.88,168.53 L144.29,168.62 L145.69,168.71 L147.10,168.80 L148.51,168.88 L149.91,168.96 L151.32,169.03 L152.73,169.09 L154.14,169.15 L155.55,169.20 L156.95,169.25 L158.36,169.28 L159.77,169.31 L161.18,169.33 L162.59,169.35 L163.99,169.37 L165.40,169.39 L166.81,169.41 L168.22,169.43 L169.63,169.45 L171.04,169.46 L172.45,169.47 L173.86,169.48 L175.27,169.49 L176.67,169.50 L178.08,169.50 L179.49,169.50 L180.90,169.47 L182.30,169.41 L183.71,169.33 L185.12,169.24 L186.52,169.13 L187.93,169.03 L189.34,168.94 L190.74,168.86 L192.15,168.78 L193.56,168.71 L194.97,168.63 L196.37,168.55 L197.78,168.47 L199.18,168.37 L200.58,168.25 L201.99,168.11 L203.39,167.95 L204.79,167.76 L206.19,167.56 L207.58,167.34 L208.96,167.11 L210.34,166.86 L211.72,166.59 L213.09,166.29 L214.45,165.96 L215.82,165.61 L217.18,165.23 L218.54,164.85 L219.89,164.45 L221.24,164.03 L222.59,163.61 L223.94,163.19 L225.29,162.76 L226.64,162.33 L227.98,161.91 L229.33,161.49 L230.67,161.08 L232.02,160.66 L233.36,160.24 L234.71,159.81 L236.05,159.38 L237.39,158.94 L238.73,158.50 L240.07,158.05 L241.40,157.59 L242.74,157.13 L244.06,156.66 L245.39,156.17 L246.70,155.68 L248.02,155.18 L249.33,154.67 L250.63,154.14 L251.92,153.58 L253.20,153.00 L254.48,152.41 L255.76,151.82 L257.04,151.22 L258.32,150.63 L259.60,150.04 L260.89,149.47 L262.19,148.91 L263.48,148.35 L264.78,147.80 L266.07,147.23 L267.35,146.66 L268.63,146.06 L269.90,145.45 L271.15,144.81 L272.39,144.15 L273.62,143.46 L274.84,142.76 L276.06,142.05 L277.28,141.34 L278.50,140.63 L279.72,139.93 L280.95,139.24 L282.18,138.55 L283.41,137.86 L284.63,137.17 L285.86,136.48 L287.09,135.80 L288.32,135.11 L289.55,134.42 L290.78,133.72 L292.00,133.03 L293.23,132.33 L294.45,131.63 L295.67,130.93 L296.89,130.22 L298.10,129.51 L299.31,128.79 L300.52,128.07 L301.74,127.35 L302.95,126.63 L304.16,125.91 L305.37,125.18 L306.58,124.46 L307.79,123.72 L308.99,122.99 L310.19,122.25 L311.39,121.50 L312.58,120.75 L313.77,119.99 L314.95,119.23 L316.13,118.45 L317.29,117.67 L318.45,116.88 L319.60,116.08 L320.75,115.27 L321.90,114.45 L323.04,113.63 L324.18,112.80 L325.32,111.96 L326.45,111.11 L327.58,110.26 L328.70,109.40 L329.81,108.53 L330.92,107.66 L332.03,106.77 L333.13,105.89 L334.22,104.99 L335.30,104.09 L336.38,103.18 L337.44,102.26 L338.50,101.34 L339.55,100.41 L340.59,99.47 L341.62,98.51 L342.64,97.54 L343.65,96.56 L344.65,95.57 L345.64,94.57 L346.63,93.55 L347.61,92.53 L348.58,91.51 L349.54,90.48 L350.50,89.44 L351.45,88.40 L352.40,87.36 L353.35,86.32 L354.31,85.28 L355.27,84.24 L356.22,83.19 L357.17,82.13 L358.11,81.07 L359.02,79.99 L359.92,78.90 L360.79,77.80 L361.63,76.68 L362.43,75.54 L363.20,74.38 L363.92,73.18 L364.60,71.95 L365.26,70.70 L365.91,69.44 L366.57,68.19 L367.25,66.95 L367.95,65.73 L368.69,64.52 L369.43,63.32 L370.18,62.13 L370.93,60.93 L371.66,59.72 L372.36,58.51 L373.02,57.27 L373.65,56.02 L374.26,54.75 L374.86,53.47 L375.44,52.18 L376.01,50.89 L376.57,49.60 L377.12,48.30 L377.67,47.00 L378.22,45.70 L378.75,44.40 L379.27,43.09 L379.79,41.78 L380.30,40.47 L380.82,39.16 L381.35,37.85 L381.90,36.56 L382.48,35.27 L383.06,33.98 L383.63,32.69 L384.17,31.39 L384.67,30.08 L385.12,28.75 L385.54,27.40 L385.93,26.05 L386.30,24.69 L386.66,23.33 L386.99,21.96 L387.31,20.59 L387.62,19.21 L387.93,17.84 L388.23,16.46 L388.54,15.08 L388.86,13.71 L389.19,12.34 L389.54,10.98 L389.91,9.62 L390.29,8.26 L390.69,6.91 L391.08,5.56 L391.48,4.20 L391.86,2.85 L392.22,1.49 L392.57,0.12 L392.89,-1.25 L393.20,-2.62 L393.50,-4.00" fill="none" stroke="#ff0000" stroke-width="1.5"/>
<path d="M56.20,160.50 L57.22,160.47 L58.25,160.44 L59.27,160.41 L60.30,160.38 L61.32,160.35 L62.35,160.33 L63.37,160.31 L64.40,160.30 L65.42,160.30 L66.45,160.30 L67.47,160.30 L68.50,160.31 L69.52,160.32 L70.55,160.32 L71.57,160.33 L72.60,160.34 L73.62,160.35 L74.65,160.36 L75.67,160.38 L76.70,160.39 L77.72,160.40 L78.75,160.41 L79.77,160.43 L80.80,160.44 L81.82,160.45 L82.85,160.46 L83.87,160.47 L84.90,160.48 L85.92,160.49 L86.95,160.49 L87.97,160.50 L89.00,160.50 L90.02,160.50 L91.05,160.50 L92.07,160.50 L93.10,160.49 L94.12,160.48 L95.15,160.47 L96.17,160.46 L97.20,160.45 L98.22,160.44 L99.25,160.42 L100.27,160.40 L101.30,160.39 L102.32,160.37 L103.35,160.35 L104.37,160.33 L105.40,160.30 L106.42,160.28 L107.45,160.26 L108.47,160.24 L109.50,160.21 L110.52,160.19 L111.55,160.16 L112.57,160.12 L113.59,160.08 L114.62,160.04 L115.64,159.99 L116.67,159.94 L117.69,159.88 L118.71,159.83 L119.74,159.77 L120.76,159.72 L121.78,159.66 L122.81,159.61 L123.83,159.56 L124.86,159.50 L125.88,159.45 L126.90,159.39 L127.93,159.34 L128.95,159.28 L129.97,159.22 L131.00,159.16 L132.02,159.10 L133.04,159.04 L134.07,158.98 L135.09,158.91 L136.11,158.85 L137.13,158.79 L138.16,158.72 L139.18,158.65 L140.20,158.59 L141.23,158.52 L142.25,158.45 L143.27,158.38 L144.29,158.30 L145.32,158.23 L146.34,158.15 L147.36,158.07 L148.38,158.00 L149.40,157.92 L150.43,157.84 L151.45,157.76 L152.47,157.68 L153.49,157.59 L154.51,157.51 L155.54,157.43 L156.56,157.35 L157.58,157.27 L158.60,157.18 L159.62,157.10 L160.64,157.02 L161.67,156.93 L162.69,156.83 L163.71,156.73 L164.72,156.62 L165.74,156.49 L166.76,156.36 L167.77,156.21 L168.79,156.07 L169.80,155.92 L170.82,155.77 L171.83,155.64 L172.85,155.50 L173.87,155.37 L174.88,155.24 L175.90,155.12 L176.92,154.99 L177.93,154.87 L178.95,154.75 L179.97,154.63 L180.99,154.51 L182.01,154.40 L183.03,154.30 L184.05,154.19 L185.07,154.09 L186.09,153.98 L187.11,153.87 L188.12,153.76 L189.14,153.63 L190.16,153.49 L191.17,153.35 L192.18,153.20 L193.20,153.04 L194.21,152.89 L195.23,152.74 L196.24,152.59 L197.26,152.45 L198.27,152.32 L199.29,152.20 L200.31,152.08 L201.33,151.96 L202.34,151.84 L203.36,151.71 L204.38,151.58 L205.39,151.45 L206.41,151.31 L207.42,151.16 L208.44,151.01 L209.45,150.86 L210.47,150.70 L211.48,150.54 L212.49,150.38 L213.50,150.22 L214.51,150.05 L215.52,149.87 L216.53,149.70 L217.54,149.51 L218.55,149.33 L219.56,149.14 L220.56,148.95 L221.57,148.76 L222.58,148.57 L223.59,148.38 L224.59,148.19 L225.60,148.00 L226.61,147.80 L227.61,147.61 L228.62,147.43 L229.63,147.24 L230.64,147.06 L231.65,146.87 L232.66,146.69 L233.67,146.51 L234.68,146.34 L235.69,146.16 L236.70,145.98 L237.71,145.80 L238.72,145.62 L239.72,145.43 L240.73,145.25 L241.74,145.06 L242.74,144.86 L243.75,144.66 L244.75,144.46 L245.76,144.25 L246.76,144.03 L247.75,143.80 L248.75,143.55 L249.74,143.30 L250.74,143.05 L251.73,142.81 L252.73,142.57 L253.73,142.35 L254.74,142.15 L255.74,141.96 L256.75,141.77 L257.76,141.59 L258.77,141.41 L259.78,141.22 L260.79,141.02 L261.79,140.80 L262.78,140.57 L263.78,140.32 L264.77,140.06 L265.76,139.79 L266.74,139.51 L267.73,139.23 L268.72,138.95 L269.70,138.67 L270.69,138.39 L271.68,138.12 L272.67,137.84 L273.65,137.56 L274.64,137.27 L275.62,136.98 L276.60,136.68 L277.58,136.38 L278.55,136.06 L279.52,135.73 L280.49,135.40 L281.46,135.06 L282.42,134.71 L283.39,134.37 L284.36,134.03 L285.32,133.69 L286.29,133.35 L287.26,133.01 L288.22,132.66 L289.19,132.32 L290.16,131.98 L291.12,131.64 L292.09,131.31 L293.06,130.98 L294.04,130.66 L295.01,130.35 L295.99,130.04 L296.97,129.74 L297.96,129.45 L298.94,129.16 L299.92,128.87 L300.91,128.58 L301.89,128.30 L302.88,128.01 L303.86,127.71 L304.84,127.42 L305.82,127.11 L306.80,126.80 L307.77,126.48 L308.74,126.16 L309.71,125.82 L310.67,125.47 L311.64,125.12 L312.60,124.76 L313.56,124.39 L314.51,124.01 L315.45,123.62 L316.39,123.20 L317.31,122.77 L318.23,122.31 L319.13,121.83 L320.03,121.34 L320.93,120.84 L321.82,120.33 L322.72,119.83 L323.62,119.34 L324.53,118.86 L325.44,118.39 L326.35,117.91 L327.25,117.44 L328.16,116.96 L329.07,116.48 L329.97,116.00 L330.87,115.51 L331.77,115.01 L332.66,114.51 L333.55,114.00 L334.44,113.49 L335.33,112.98 L336.22,112.47 L337.10,111.95 L337.98,111.43 L338.87,110.90 L339.75,110.38 L340.63,109.85 L341.50,109.32 L342.38,108.78 L343.25,108.24 L344.12,107.70 L344.98,107.14 L345.84,106.59 L346.70,106.03 L347.56,105.46 L348.41,104.89 L349.26,104.31 L350.10,103.72 L350.93,103.12 L351.74,102.50 L352.53,101.86 L353.31,101.20 L354.06,100.51 L354.81,99.80 L355.55,99.09 L356.29,98.38 L357.04,97.67 L357.80,96.98 L358.57,96.31 L359.36,95.65 L360.16,95.00 L360.96,94.36 L361.76,93.71 L362.55,93.06 L363.32,92.39 L364.08,91.71 L364.82,91.01 L365.55,90.28 L366.26,89.55 L366.97,88.80 L367.66,88.05 L368.36,87.29 L369.05,86.53 L369.74,85.77 L370.42,85.01 L371.11,84.25 L371.80,83.49 L372.48,82.72 L373.15,81.94 L373.81,81.16 L374.46,80.37 L375.10,79.57 L375.72,78.76 L376.34,77.94 L376.94,77.11 L377.54,76.28 L378.13,75.43 L378.71,74.59 L379.28,73.74 L379.85,72.88 L380.40,72.02 L380.96,71.16 L381.50,70.29 L382.04,69.42 L382.57,68.54 L383.09,67.66 L383.62,66.78 L384.13,65.89 L384.64,65.00 L385.15,64.12 L385.66,63.22 L386.16,62.33 L386.66,61.43 L387.15,60.53 L387.63,59.62 L388.09,58.71 L388.55,57.79 L388.99,56.87 L389.43,55.94 L389.86,55.01 L390.28,54.08 L390.70,53.14 L391.12,52.21 L391.54,51.27 L391.95,50.33 L392.33,49.35 L392.69,48.35 L393.05,47.36 L393.42,46.39 L393.83,45.45 L394.30,44.57 L394.83,43.76 L395.57,42.89 L396.39,42.31 L397.06,42.68 L397.67,43.70 L398.13,44.69 L398.50,45.61 L398.82,46.57 L399.10,47.56 L399.37,48.56 L399.62,49.57 L399.88,50.58 L400.15,51.58 L400.45,52.57 L400.78,53.54 L401.12,54.50 L401.46,55.47 L401.81,56.43 L402.16,57.40 L402.51,58.36 L402.86,59.32 L403.21,60.29 L403.56,61.25 L403.91,62.22 L404.25,63.18 L404.60,64.15 L404.95,65.11 L405.30,66.07 L405.65,67.04 L406.00,68.00" fill="none" stroke="#ff0000" stroke-width="2.1" stroke-linecap="round" stroke-dasharray="0.01 8.19" stroke-dashoffset="-1.7"/>
</g>
<g clip-path="url(#cl)">
<path d="M56.20,323.30 L58.00,323.30 L59.79,323.30 L61.59,323.30 L63.39,323.30 L65.18,323.30 L66.98,323.30 L68.78,323.30 L70.57,323.30 L72.37,323.30 L74.17,323.30 L75.96,323.30 L77.76,323.30 L79.56,323.30 L81.35,323.30 L83.15,323.30 L84.95,323.30 L86.74,323.30 L88.54,323.30 L90.34,323.30 L92.13,323.30 L93.93,323.30 L95.73,323.30 L97.52,323.30 L99.32,323.30 L101.12,323.30 L102.91,323.30 L104.71,323.30 L106.51,323.31 L108.30,323.31 L110.10,323.32 L111.90,323.33 L113.70,323.34 L115.49,323.35 L117.29,323.36 L119.08,323.37 L120.88,323.39 L122.68,323.40 L124.47,323.44 L126.27,323.49 L128.07,323.56 L129.86,323.65 L131.66,323.76 L133.45,323.87 L135.25,323.99 L137.04,324.12 L138.83,324.26 L140.61,324.40 L142.40,324.57 L144.18,324.77 L145.97,325.00 L147.75,325.25 L149.53,325.51 L151.31,325.79 L153.08,326.09 L154.86,326.39 L156.63,326.69 L158.39,327.00 L160.16,327.31 L161.93,327.65 L163.69,327.99 L165.45,328.36 L167.22,328.73 L168.97,329.13 L170.73,329.53 L172.47,329.96 L174.22,330.39 L175.95,330.84 L177.68,331.30 L179.41,331.79 L181.13,332.30 L182.84,332.84 L184.56,333.39 L186.26,333.97 L187.96,334.57 L189.66,335.18 L191.34,335.81 L193.02,336.45 L194.69,337.10 L196.35,337.77 L198.00,338.47 L199.64,339.20 L201.28,339.95 L202.90,340.72 L204.53,341.49 L206.15,342.28 L207.77,343.06 L209.39,343.84 L211.00,344.62 L212.62,345.41 L214.23,346.20 L215.85,347.00 L217.45,347.80 L219.06,348.61 L220.66,349.43 L222.25,350.26 L223.83,351.10 L225.41,351.96 L226.98,352.84 L228.54,353.73 L230.09,354.64 L231.64,355.55 L233.19,356.46 L234.74,357.38 L236.29,358.28 L237.85,359.16 L239.42,360.03 L241.00,360.92 L242.56,361.81 L244.13,362.71 L245.71,363.61 L247.29,364.48 L248.88,365.32 L250.49,366.11 L252.11,366.85 L253.76,367.52 L255.42,368.14 L257.11,368.73 L258.82,369.28 L260.55,369.81 L262.28,370.32 L264.02,370.80 L265.77,371.25 L267.52,371.69 L269.26,372.10 L271.01,372.50 L272.76,372.88 L274.53,373.24 L276.29,373.59 L278.06,373.92 L279.83,374.24 L281.60,374.54 L283.37,374.83 L285.15,375.11 L286.92,375.37 L288.70,375.63 L290.48,375.88 L292.26,376.12 L294.05,376.34 L295.83,376.56 L297.62,376.78 L299.40,376.98 L301.19,377.18 L302.97,377.37 L304.76,377.57 L306.55,377.75 L308.33,377.93 L310.12,378.10 L311.91,378.27 L313.70,378.42 L315.49,378.56 L317.29,378.69 L319.08,378.82 L320.87,378.94 L322.66,379.06 L324.46,379.18 L326.25,379.28 L328.05,379.38 L329.84,379.46 L331.64,379.52 L333.43,379.56 L335.23,379.59 L337.02,379.63 L338.82,379.66 L340.62,379.69 L342.41,379.71 L344.21,379.74 L346.01,379.76 L347.80,379.78 L349.60,379.80 L351.40,379.81 L353.19,379.83 L354.99,379.84 L356.79,379.84 L358.58,379.85 L360.38,379.85 L362.18,379.85 L363.97,379.85 L365.77,379.85 L367.57,379.85 L369.36,379.85 L371.16,379.85 L372.96,379.85 L374.75,379.85 L376.55,379.85 L378.35,379.85 L380.14,379.85 L381.94,379.85 L383.74,379.85 L385.53,379.85 L387.33,379.85 L389.13,379.85 L390.92,379.85 L392.72,379.85 L394.52,379.85 L396.31,379.85 L398.11,379.85 L399.91,379.85 L401.70,379.85 L403.50,379.85" fill="none" stroke="#006400" stroke-width="1.15" stroke-dasharray="5.3 6.96" stroke-dashoffset="10.97"/>
<path d="M56.20,379.85 L58.00,379.85 L59.79,379.85 L61.59,379.85 L63.38,379.85 L65.18,379.85 L66.97,379.85 L68.77,379.85 L70.57,379.85 L72.36,379.85 L74.16,379.85 L75.95,379.85 L77.75,379.85 L79.54,379.85 L81.34,379.85 L83.13,379.85 L84.93,379.85 L86.73,379.85 L88.52,379.85 L90.32,379.85 L92.11,379.85 L93.91,379.85 L95.70,379.85 L97.50,379.85 L99.29,379.85 L101.09,379.85 L102.88,379.84 L104.68,379.82 L106.48,379.80 L108.27,379.76 L110.07,379.73 L111.86,379.69 L113.66,379.64 L115.45,379.59 L117.25,379.54 L119.04,379.49 L120.84,379.44 L122.63,379.39 L124.43,379.33 L126.22,379.27 L128.02,379.20 L129.81,379.13 L131.61,379.05 L133.40,378.96 L135.19,378.86 L136.99,378.75 L138.78,378.64 L140.56,378.52 L142.35,378.37 L144.14,378.20 L145.93,378.00 L147.72,377.79 L149.50,377.56 L151.29,377.32 L153.07,377.06 L154.84,376.78 L156.61,376.50 L158.37,376.20 L160.13,375.88 L161.88,375.52 L163.63,375.12 L165.38,374.69 L167.12,374.24 L168.85,373.76 L170.59,373.27 L172.32,372.77 L174.05,372.26 L175.77,371.75 L177.49,371.24 L179.21,370.73 L180.93,370.21 L182.65,369.68 L184.36,369.14 L186.07,368.58 L187.78,368.01 L189.48,367.42 L191.17,366.82 L192.85,366.20 L194.53,365.57 L196.19,364.91 L197.85,364.22 L199.49,363.51 L201.13,362.77 L202.76,362.02 L204.39,361.25 L206.02,360.48 L207.64,359.70 L209.25,358.92 L210.87,358.14 L212.48,357.35 L214.09,356.55 L215.69,355.74 L217.29,354.92 L218.89,354.10 L220.48,353.27 L222.07,352.43 L223.66,351.59 L225.24,350.74 L226.81,349.87 L228.37,348.98 L229.93,348.08 L231.48,347.18 L233.04,346.28 L234.60,345.39 L236.16,344.52 L237.74,343.66 L239.33,342.83 L240.93,342.00 L242.52,341.18 L244.13,340.36 L245.74,339.55 L247.36,338.76 L248.99,338.00 L250.62,337.27 L252.27,336.57 L253.93,335.91 L255.61,335.28 L257.29,334.67 L258.99,334.07 L260.70,333.50 L262.42,332.95 L264.14,332.43 L265.87,331.94 L267.61,331.49 L269.35,331.08 L271.09,330.69 L272.85,330.32 L274.61,329.97 L276.38,329.64 L278.15,329.32 L279.93,329.02 L281.70,328.73 L283.48,328.46 L285.25,328.20 L287.03,327.95 L288.81,327.71 L290.59,327.48 L292.37,327.26 L294.15,327.04 L295.94,326.83 L297.72,326.62 L299.50,326.40 L301.29,326.19 L303.07,325.97 L304.85,325.75 L306.64,325.53 L308.42,325.32 L310.20,325.12 L311.99,324.92 L313.77,324.73 L315.56,324.56 L317.35,324.40 L319.14,324.25 L320.93,324.09 L322.72,323.93 L324.51,323.78 L326.30,323.64 L328.09,323.52 L329.89,323.43 L331.68,323.37 L333.47,323.35 L335.27,323.34 L337.06,323.34 L338.86,323.33 L340.65,323.32 L342.45,323.32 L344.24,323.32 L346.04,323.31 L347.83,323.31 L349.63,323.31 L351.43,323.30 L353.22,323.30 L355.02,323.30 L356.82,323.30 L358.61,323.30 L360.41,323.30 L362.20,323.30 L364.00,323.30 L365.79,323.30 L367.59,323.30 L369.38,323.30 L371.18,323.30 L372.98,323.30 L374.77,323.30 L376.57,323.30 L378.36,323.30 L380.16,323.30 L381.95,323.30 L383.75,323.30 L385.54,323.30 L387.34,323.30 L389.14,323.30 L390.93,323.30 L392.73,323.30 L394.52,323.30 L396.32,323.30 L398.11,323.30 L399.91,323.30 L401.70,323.30 L403.50,323.30" fill="none" stroke="#0000ff" stroke-width="1.2" stroke-dasharray="13 3.7 2.3 3.7" stroke-dashoffset="0.08"/>
</g>
<g font-family="Liberation Sans, sans-serif" font-size="9.15" fill="#000">
<text x="87.91" y="392.6" text-anchor="middle">0.10</text>
<text x="122.98" y="392.6" text-anchor="middle">0.20</text>
<text x="158.06" y="392.6" text-anchor="middle">0.30</text>
<text x="193.13" y="392.6" text-anchor="middle">0.40</text>
<text x="228.20" y="392.6" text-anchor="middle">0.50</text>
<text x="263.28" y="392.6" text-anchor="middle">0.60</text>
<text x="298.36" y="392.6" text-anchor="middle">0.70</text>
<text x="333.43" y="392.6" text-anchor="middle">0.80</text>
<text x="368.50" y="392.6" text-anchor="middle">0.90</text>
<text x="403.88" y="392.6" text-anchor="middle">1.00</text>
<text x="48.3" y="382.95" text-anchor="end">0.0</text>
<text x="48.3" y="371.64" text-anchor="end">0.2</text>
<text x="48.3" y="360.33" text-anchor="end">0.4</text>
<text x="48.3" y="349.02" text-anchor="end">0.6</text>
<text x="48.3" y="337.71" text-anchor="end">0.8</text>
<text x="48.3" y="326.40" text-anchor="end">1.0</text>
<text x="43.9" y="18.70" text-anchor="end">1.0&#183;10</text>
<text x="44.5" y="15.00" font-size="6.7">5</text>
<text x="43.9" y="91.92" text-anchor="end">5.0&#183;10</text>
<text x="44.5" y="88.22" font-size="6.7">4</text>
<text x="43.9" y="165.15" text-anchor="end">0.0&#183;10</text>
<text x="44.5" y="161.45" font-size="6.7">0</text>
<text x="43.9" y="238.37" text-anchor="end">-5.0&#183;10</text>
<text x="44.5" y="234.67" font-size="6.7">4</text>
<text x="43.9" y="311.60" text-anchor="end">-1.0&#183;10</text>
<text x="44.5" y="307.90" font-size="6.7">5</text>
</g>
<g transform="translate(70.6,32.7) scale(0.909,1)"><text x="0" y="0" font-family="Liberation Mono, monospace" font-size="17.4" text-anchor="start" fill="#000" stroke="#000" stroke-width="0" >&#8730;s=100. GeV, gg</text></g>
<text x="73.2" y="41.5" font-family="Liberation Sans, sans-serif" font-size="7.7" fill="#000" textLength="34" lengthAdjust="spacingAndGlyphs">CT18NLO</text>
<g transform="translate(228.4,405.8) scale(0.92,1)"><text x="0" y="0" font-family="Liberation Mono, monospace" font-size="12" text-anchor="middle" fill="#000" stroke="#000" stroke-width="0" >z</text></g>
<g transform="translate(10.3,201.3) rotate(-90) scale(0.985,1)"><text font-family="Liberation Mono, monospace" font-size="11.5" fill="#000" stroke="#000" stroke-width="0">d&#963;<tspan font-size="9.6" dy="2.6">gg</tspan><tspan dy="-2.6">/dz [nb]</tspan></text></g>
<g transform="translate(29.6,370.8) rotate(-90) scale(0.985,1)"><text font-family="Liberation Mono, monospace" font-size="11.5" fill="#000" stroke="#000" stroke-width="0">w<tspan font-size="9.6" dy="2.6">gg</tspan><tspan dy="-2.6">(z)</tspan></text></g>
<g transform="translate(353.6,250.90) scale(0.933,1)"><text x="0" y="0" font-family="Liberation Mono, monospace" font-size="12" text-anchor="end" fill="#000" stroke="#000" stroke-width="0" >HEF+NLO, InEW, gg, &#956;<tspan font-size="9.6" dy="2.2">F</tspan><tspan dy="-2.2">-var.</tspan></text></g>
<g transform="translate(353.6,263.97) scale(0.933,1)"><text x="0" y="0" font-family="Liberation Mono, monospace" font-size="12" text-anchor="end" fill="#000" stroke="#000" stroke-width="0" >Matching uncertainty</text></g>
<g transform="translate(353.6,277.04) scale(0.933,1)"><text x="0" y="0" font-family="Liberation Mono, monospace" font-size="12" text-anchor="end" fill="#000" stroke="#000" stroke-width="0" >HEF, gg</text></g>
<g transform="translate(353.6,290.11) scale(0.933,1)"><text x="0" y="0" font-family="Liberation Mono, monospace" font-size="12" text-anchor="end" fill="#000" stroke="#000" stroke-width="0" >NLO CF, gg</text></g>
<g transform="translate(353.6,303.18) scale(0.933,1)"><text x="0" y="0" font-family="Liberation Mono, monospace" font-size="12" text-anchor="end" fill="#000" stroke="#000" stroke-width="0" >HEF+NLO, InEW, gg</text></g>
<g transform="translate(353.6,316.25) scale(0.933,1)"><text x="0" y="0" font-family="Liberation Mono, monospace" font-size="12" text-anchor="end" fill="#000" stroke="#000" stroke-width="0" >HEF+NLO, subtr., gg</text></g>
<g clip-path="url(#clh)"><path d="M-218.34,-10 L211.66,420 M-207.67,-10 L222.33,420 M-197.01,-10 L232.99,420 M-186.34,-10 L243.66,420 M-175.67,-10 L254.33,420 M-165.00,-10 L265.00,420 M-154.34,-10 L275.66,420 M-143.67,-10 L286.33,420 M-133.00,-10 L297.00,420 M-122.34,-10 L307.66,420 M-111.67,-10 L318.33,420 M-101.00,-10 L329.00,420 M-90.34,-10 L339.66,420 M-79.67,-10 L350.33,420 M-69.00,-10 L361.00,420 M-58.33,-10 L371.67,420 M-47.67,-10 L382.33,420 M-37.00,-10 L393.00,420 M-26.33,-10 L403.67,420 M-15.67,-10 L414.33,420 M-5.00,-10 L425.00,420 M5.67,-10 L435.67,420 M16.33,-10 L446.33,420 M27.00,-10 L457.00,420 M37.67,-10 L467.67,420 M48.34,-10 L478.34,420 M59.00,-10 L489.00,420 M69.67,-10 L499.67,420 M80.34,-10 L510.34,420 M91.00,-10 L521.00,420 M101.67,-10 L531.67,420 M112.34,-10 L542.34,420 M123.00,-10 L553.00,420 M133.67,-10 L563.67,420 M144.34,-10 L574.34,420 M155.01,-10 L585.00,420 M165.67,-10 L595.67,420 M176.34,-10 L606.34,420 M187.01,-10 L617.01,420 M197.67,-10 L627.67,420 M208.34,-10 L638.34,420 M219.01,-10 L649.01,420 M229.67,-10 L659.67,420 M240.34,-10 L670.34,420 M251.01,-10 L681.01,420 M261.68,-10 L691.67,420 M272.34,-10 L702.34,420 M283.01,-10 L713.01,420 M293.68,-10 L723.68,420 M304.34,-10 L734.34,420 M315.01,-10 L745.01,420 M325.68,-10 L755.68,420 M336.34,-10 L766.34,420 M347.01,-10 L777.01,420 M357.68,-10 L787.68,420 M368.34,-10 L798.34,420 M379.01,-10 L809.01,420 M389.68,-10 L819.68,420 M400.35,-10 L830.35,420" stroke="#ff0000" stroke-width="0.72" fill="none"/></g>
<rect x="361.1" y="244.2" width="30.9" height="6.7" fill="none" stroke="#ff0000" stroke-width="0.7"/>
<rect x="361.1" y="257.2" width="30.9" height="6.7" fill="#00e000" fill-opacity="0.3" stroke="none"/>
<rect x="361.1" y="257.2" width="30.9" height="6.7" fill="none" stroke="#00f000" stroke-width="0.8"/>
<path d="M361.1,273.84 H392" stroke="#006400" stroke-width="1.3" stroke-dasharray="5.3 6.9" fill="none"/>
<path d="M361.1,286.91 H392" stroke="#0000ff" stroke-width="1.4" stroke-dasharray="7.7 3.4 2.2 3.4" fill="none"/>
<path d="M361.1,299.38 H392" stroke="#ff0000" stroke-width="1.5" fill="none"/>
<path d="M361.1,312.85 H392" stroke="#ff0000" stroke-width="2.1" stroke-linecap="round" stroke-dasharray="0.01 8.4" stroke-dashoffset="-1" fill="none"/>
</svg>
</body></html>
